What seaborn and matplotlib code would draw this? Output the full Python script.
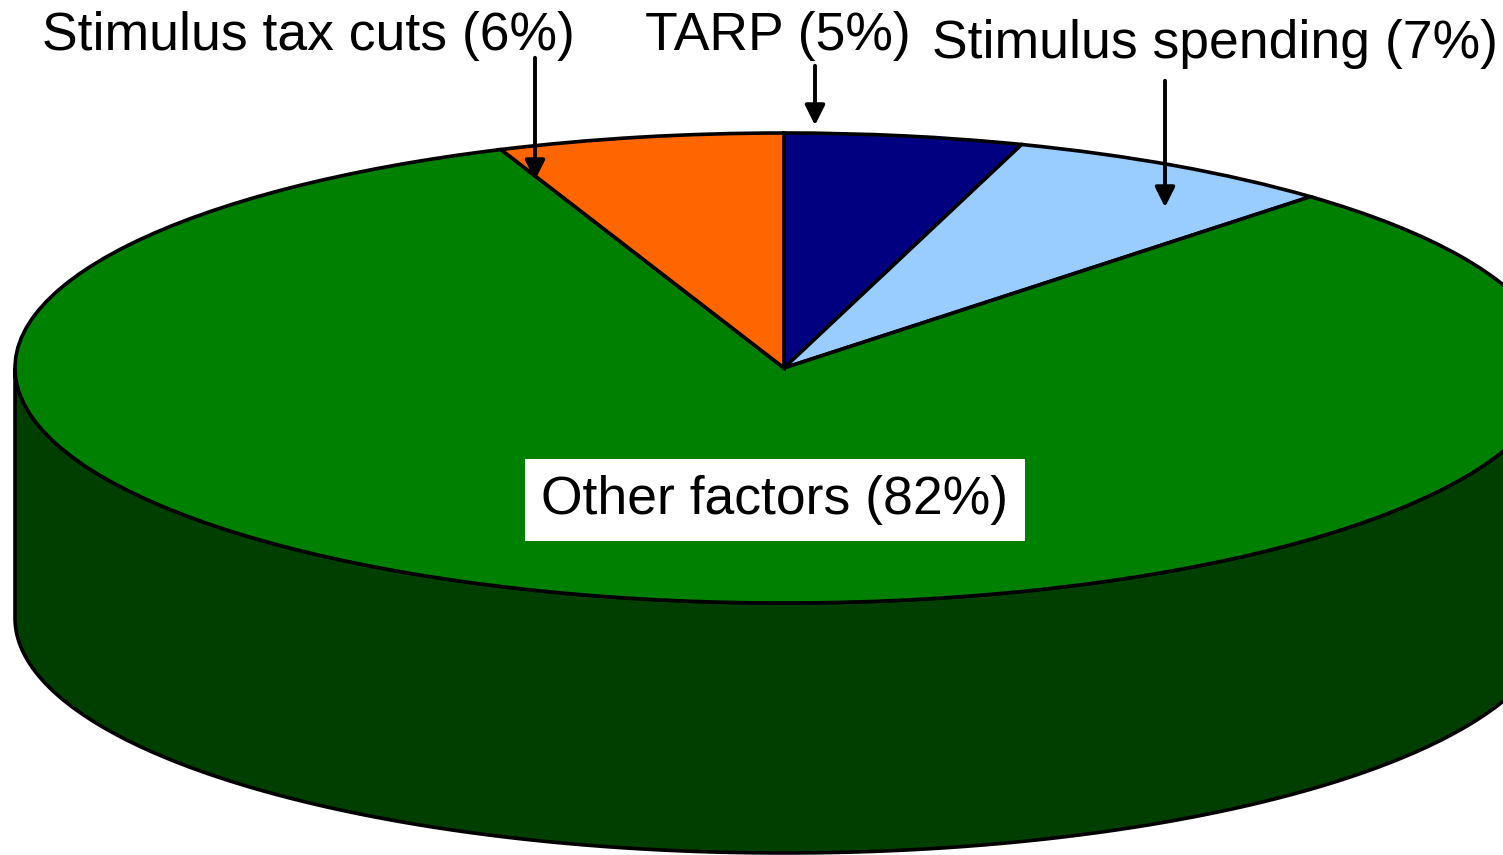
import matplotlib
matplotlib.use('Agg')
import matplotlib.pyplot as plt
import matplotlib.transforms as mtransforms
import numpy as np
import seaborn as sns

# Slices, clockwise from 12 o'clock
labels = ['TARP', 'Stimulus spending', 'Other factors', 'Stimulus tax cuts']
shares = [5, 7, 82, 6]
colors = ['#000080', '#99CCFF', '#008000', '#FF6600']
side_color = '#003F00'

sns.set_style('white')
plt.rcParams['font.family'] = ['Liberation Sans', 'DejaVu Sans']
plt.rcParams['text.color'] = 'black'

fig = plt.figure(figsize=(15.03, 8.55), dpi=100)
ax = fig.add_axes([0, 0, 1, 1])

# geometry of the tilted pie, in pixel units
cx, cy, rx, ry, depth = 784, 368, 769, 235, 250

# side wall (front half of the ellipse pushed down)
t = np.linspace(np.pi, 2 * np.pi, 300)
top_x = cx + rx * np.cos(t)
top_y = cy - ry * np.sin(t)
ax.fill(np.concatenate([top_x, top_x[::-1]]),
        np.concatenate([top_y, top_y[::-1] + depth]),
        facecolor=side_color, edgecolor='black', lw=2.6, zorder=1)

wedges, _ = ax.pie(shares, colors=colors, startangle=90, counterclock=False,
                   wedgeprops=dict(edgecolor='black', linewidth=2.6))
squash = mtransforms.Affine2D().scale(rx, -ry).translate(cx, cy) + ax.transData
for w in wedges:
    w.set_transform(squash)
    w.set_zorder(2)

ax.set_aspect('auto')
ax.set_xlim(0, 1503)
ax.set_ylim(855, 0)
ax.axis('off')

fs = 38.5
ax.text(42, 50, f'{labels[3]} ({shares[3]}%)', fontsize=fs, ha='left', va='baseline')
ax.text(645, 50, f'{labels[0]} ({shares[0]}%)', fontsize=fs, ha='left', va='baseline')
ax.text(932, 58, f'{labels[1]} ({shares[1]}%)', fontsize=fs, ha='left', va='baseline')
ax.text(775, 500, f'{labels[2]} ({shares[2]}%)', fontsize=fs, ha='center', va='center',
        bbox=dict(boxstyle='square,pad=0.3', facecolor='white', edgecolor='none'), zorder=5)

arrow = dict(arrowstyle='-|>', color='black', lw=2.8, mutation_scale=30)
ax.annotate('', xy=(535, 183), xytext=(535, 55), arrowprops=arrow, zorder=6)
ax.annotate('', xy=(815, 128), xytext=(815, 63), arrowprops=arrow, zorder=6)
ax.annotate('', xy=(1165, 210), xytext=(1165, 78), arrowprops=arrow, zorder=6)

fig.savefig('out.png', dpi=100, facecolor='white')
